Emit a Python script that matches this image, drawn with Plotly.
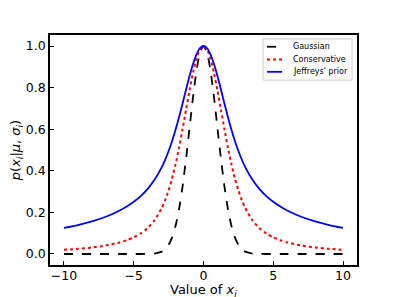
import plotly.graph_objects as go

x_vals = [-10, -9, -8, -7, -6, -5.5, -5, -4.5, -4, -3.5, -3, -2.75, -2.5, -2.25, -2, -1.75, -1.5, -1.25, -1, -0.75, -0.5, -0.25,
          0, 0.25, 0.5, 0.75, 1, 1.25, 1.5, 1.75, 2, 2.25, 2.5, 2.75, 3, 3.5, 4, 4.5, 5, 5.5, 6, 7, 8, 9, 10]

gaussian = [0, 0, 0, 0, 0, 0, 0, 0, 0.0003, 0.0022, 0.0111, 0.0228, 0.0439, 0.0796, 0.1353, 0.2163, 0.3247, 0.4578, 0.6065, 0.7548, 0.8825, 0.9692,
            1.0, 0.9692, 0.8825, 0.7548, 0.6065, 0.4578, 0.3247, 0.2163, 0.1353, 0.0796, 0.0439, 0.0228, 0.0111, 0.0022, 0.0003, 0, 0, 0, 0, 0, 0, 0, 0]

conservative = [0.02, 0.0247, 0.0313, 0.0408, 0.0556, 0.0661, 0.08, 0.0988, 0.125, 0.1629, 0.2198, 0.2584, 0.3059, 0.3636, 0.4323, 0.5118, 0.600, 0.694, 0.787, 0.8718, 0.940, 0.9845,
                1.0, 0.9845, 0.940, 0.8718, 0.787, 0.694, 0.600, 0.5118, 0.4323, 0.3636, 0.3059, 0.2584, 0.2198, 0.1629, 0.125, 0.0988, 0.08, 0.0661, 0.0556, 0.0408, 0.0313, 0.0247, 0.02]

jeffreys = [0.1253, 0.1393, 0.1567, 0.1790, 0.2089, 0.2279, 0.2507, 0.2785, 0.3133, 0.3579, 0.4166, 0.4530, 0.4951, 0.5434, 0.5981, 0.6588, 0.7239, 0.7908, 0.8556, 0.9136, 0.9598, 0.9896,
            1.0, 0.9896, 0.9598, 0.9136, 0.8556, 0.7908, 0.7239, 0.6588, 0.5981, 0.5434, 0.4951, 0.4530, 0.4166, 0.3579, 0.3133, 0.2785, 0.2507, 0.2279, 0.2089, 0.1790, 0.1567, 0.1393, 0.1253]

series_names = ["Gaussian", "Conservative", "Jeffreys' prior"]
series_colors = ["black", "#ff0000", "#0000ff"]
series_dashes = ["dash", "dot", "solid"]
series_widths = [1.8, 2.0, 1.8]

x_ticks = [-10, -5, 0, 5, 10]
x_tick_labels = ["\u221210", "\u22125", "0", "5", "10"]
y_ticks = [0.0, 0.2, 0.4, 0.6, 0.8, 1.0]
y_tick_labels = ["0.0", "0.2", "0.4", "0.6", "0.8", "1.0"]

fig = go.Figure()
for name, ys, col, dash, w in zip(series_names, [gaussian, conservative, jeffreys], series_colors, series_dashes, series_widths):
    fig.add_trace(go.Scatter(x=x_vals, y=ys, mode="lines", name=name, showlegend=False,
                             line=dict(color=col, width=w, dash=dash, shape="spline", smoothing=0.6)))

tick_font = dict(family="DejaVu Sans", size=12.5, color="black")
title_font = dict(family="DejaVu Sans", size=13, color="black")

# custom legend (matplotlib-like compact layout), in paper coordinates
shapes = [dict(type="rect", xref="paper", yref="paper", x0=0.694, x1=0.984, y0=0.804, y1=0.983,
               line=dict(color="#cccccc", width=1), fillcolor="white", layer="above")]
annotations = []
row_y = [0.949, 0.894, 0.840]
for name, col, dash, w, yy in zip(series_names, series_colors, series_dashes, series_widths, row_y):
    shapes.append(dict(type="line", xref="paper", yref="paper", x0=0.707, x1=0.756, y0=yy, y1=yy,
                       line=dict(color=col, width=w, dash=dash), layer="above"))
    annotations.append(dict(xref="paper", yref="paper", x=0.785, y=yy, xanchor="left", yanchor="middle",
                            text=name, showarrow=False, font=dict(family="DejaVu Sans", size=8, color="black")))

# x-axis title placed as an annotation below the tick labels
annotations.append(dict(xref="paper", yref="paper", x=0.5, y=-0.068, xanchor="center", yanchor="top",
                        text="Value of <i>x<sub>i</sub></i>", showarrow=False, font=title_font, borderpad=0))

fig.update_layout(
    width=388, height=289,
    margin=dict(l=42, r=39, t=27, b=32),
    paper_bgcolor="white", plot_bgcolor="white",
    font=tick_font,
    showlegend=False,
    shapes=shapes,
    annotations=annotations,
    xaxis=dict(range=[-11, 11], tickvals=x_ticks, ticktext=x_tick_labels, automargin=False,
               ticks="inside", ticklen=4, tickwidth=1, tickcolor="black", tickfont=tick_font,
               ticklabelstandoff=-2,
               showline=True, linecolor="black", linewidth=1.5, mirror=True,
               showgrid=False, zeroline=False),
    yaxis=dict(range=[-0.053, 1.053], tickvals=y_ticks, ticktext=y_tick_labels, automargin=False,
               ticks="inside", ticklen=4, tickwidth=1, tickcolor="black", tickfont=tick_font,
               showline=True, linecolor="black", linewidth=1.5, mirror=True,
               showgrid=False, zeroline=False,
               title=dict(text="<i>p</i>(<i>x<sub>i</sub></i>|<i>\u03bc</i>, <i>\u03c3<sub>i</sub></i>)", font=title_font)),
)

fig.write_html("out.html")
